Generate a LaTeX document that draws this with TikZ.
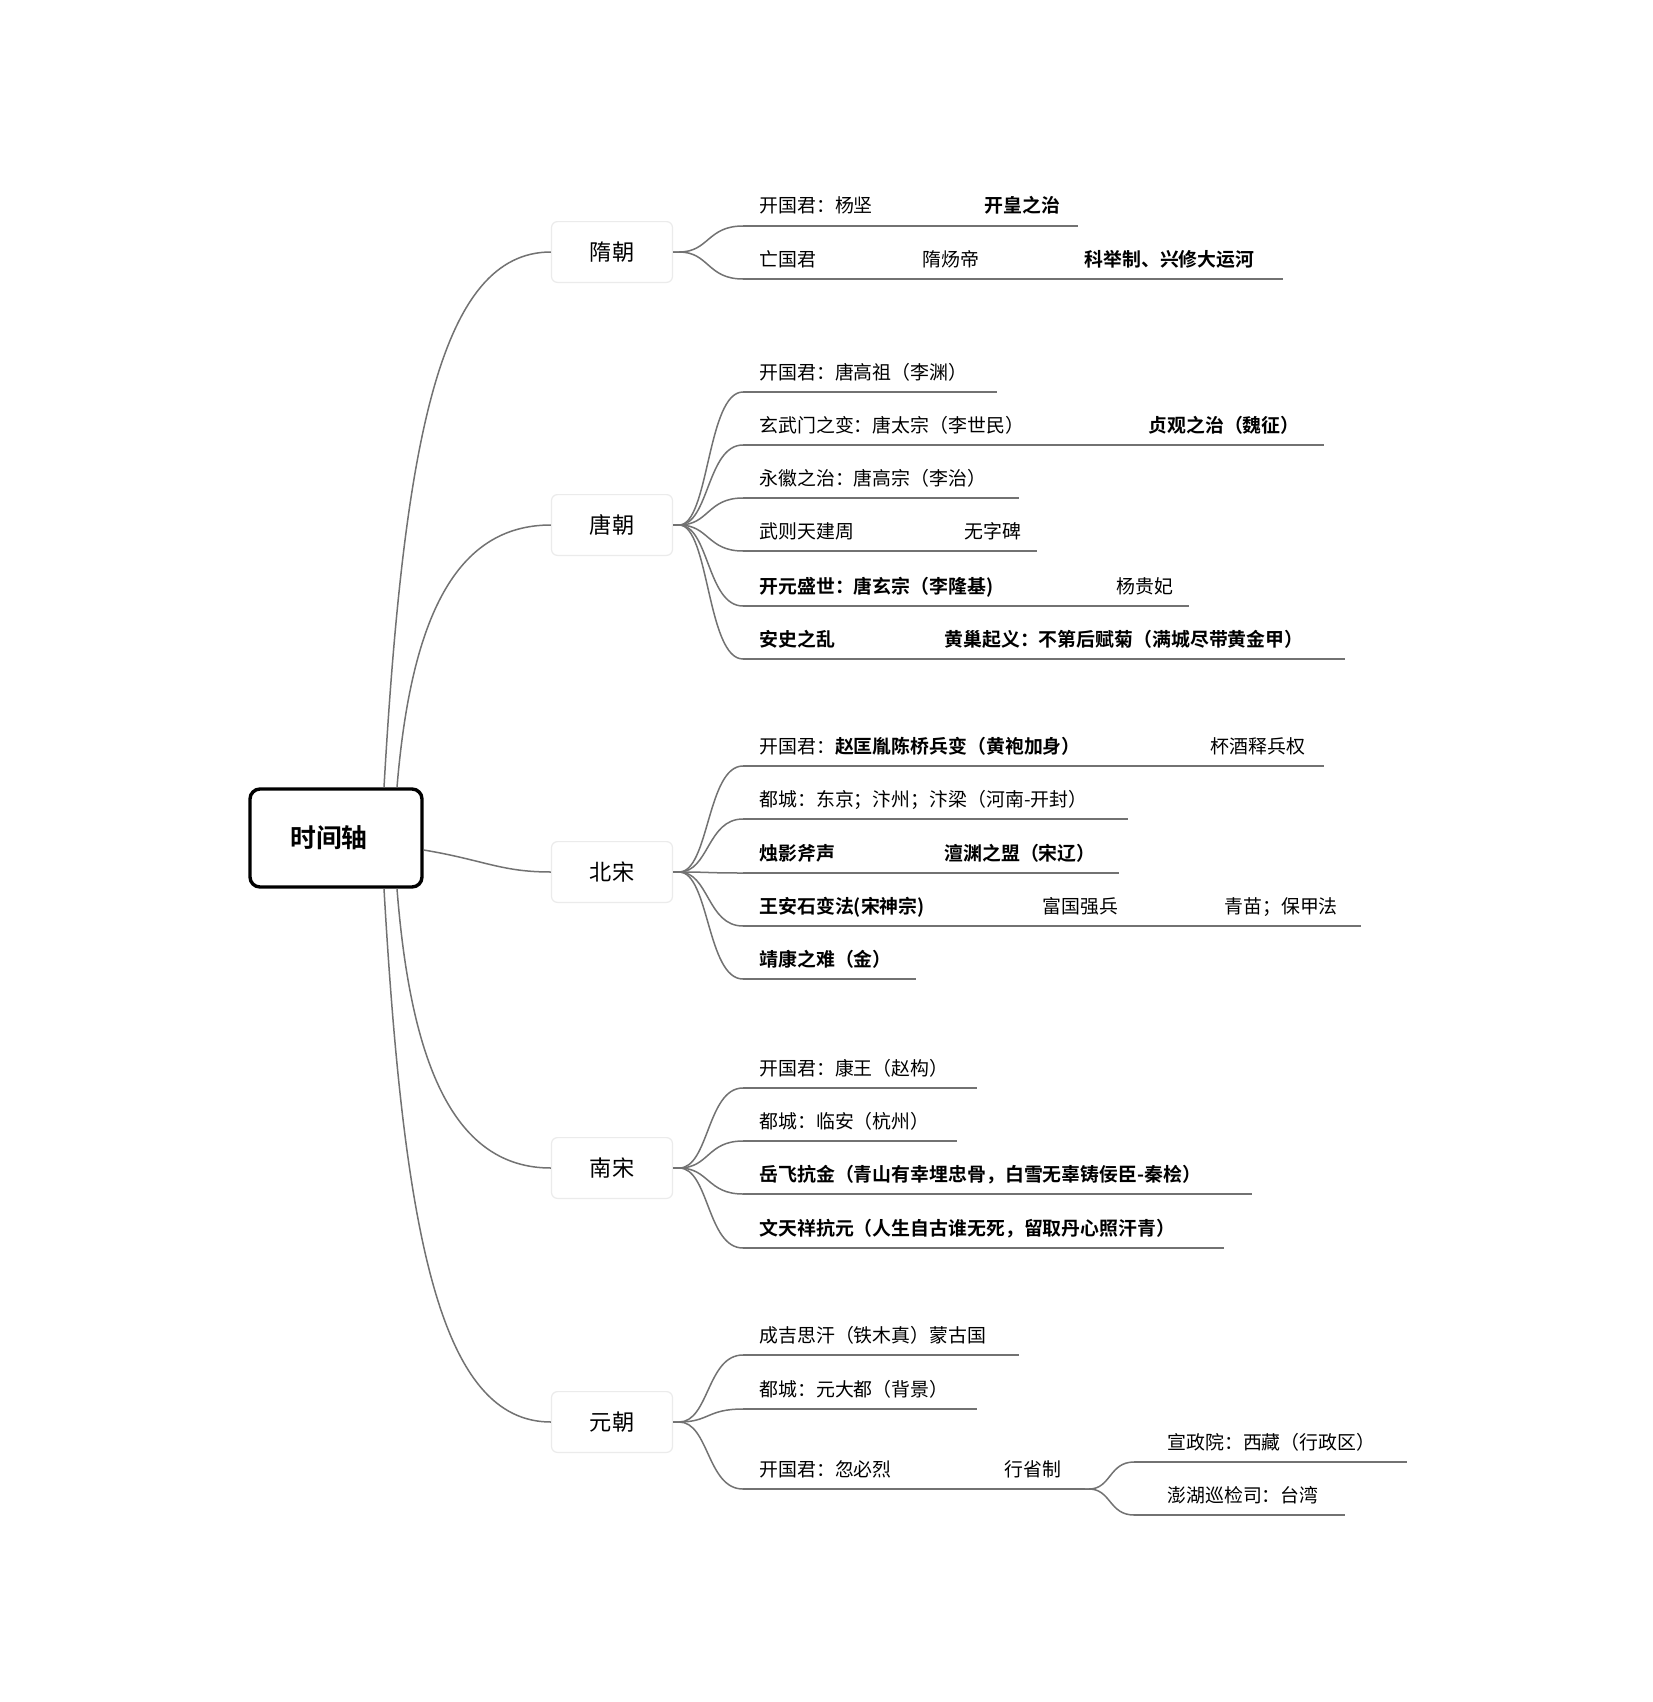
\documentclass[tikz,border=0pt]{standalone}
\usepackage{fontspec}
\setmainfont{Noto Sans CJK SC}[BoldFont={* Bold}]
\usetikzlibrary{positioning,calc}
\definecolor{linegray}{HTML}{727272}
\definecolor{boxedge}{HTML}{EBEBEB}
\tikzset{
  rootbox/.style={rounded corners=5pt, draw=black, line width=1.7pt, fill=white,
                  minimum width=86pt, minimum height=49pt, inner sep=0pt,
                  font=\fontsize{12.9}{15}\selectfont\bfseries},
  erabox/.style={rounded corners=3pt, draw=boxedge, line width=0.6pt, fill=white,
                 minimum width=60.5pt, minimum height=30.4pt, inner sep=0pt,
                 font=\fontsize{11.1}{13}\selectfont},
  leaf/.style={anchor=base west, inner sep=0pt, font=\fontsize{9.45}{11}\selectfont},
  leafb/.style={leaf, font=\fontsize{9.45}{11}\selectfont\bfseries},
  branch/.style={draw=linegray, line width=0.75pt},
}

\begin{document}
\begin{tikzpicture}[x=0.5pt,y=-0.5pt]
\fill[white] (0,0) rectangle (1653,1702);

% root and eras
\node[rootbox] (root) at (336,838) {\hspace*{-7pt}时间轴};
\node[erabox] (sui)  at (612,252)  {隋朝};
\node[erabox] (tang) at (612,525)  {唐朝};
\node[erabox] (bei)  at (612,872)  {北宋};
\node[erabox] (nan)  at (612,1168) {南宋};
\node[erabox] (yuan) at (612,1422) {元朝};

\draw[branch] ($(root.north)+(48,0)$) .. controls +(20,-350) and +(-110,0) .. (sui.west);
\draw[branch] ($(root.north)+(61,0)$) .. controls +(14,-170) and +(-95,0) .. (tang.west);
\draw[branch] ($(root.east)+(0,12)$) .. controls +(60,10) and +(-50,0) .. (bei.west);
\draw[branch] ($(root.south)+(61,0)$) .. controls +(14,180) and +(-95,0) .. (nan.west);
\draw[branch] ($(root.south)+(48,0)$) .. controls +(20,350) and +(-110,0) .. (yuan.west);

% row starts
\coordinate (sui1) at (743,226);
\coordinate (sui2) at (743,279);
\coordinate (tang1) at (743,392);
\coordinate (tang2) at (743,445);
\coordinate (tang3) at (743,498);
\coordinate (tang4) at (743,551);
\coordinate (tang5) at (743,606);
\coordinate (tang6) at (743,659);
\coordinate (bei1) at (743,766);
\coordinate (bei2) at (743,819);
\coordinate (bei3) at (743,873);
\coordinate (bei4) at (743,926);
\coordinate (bei5) at (743,979);
\coordinate (nan1) at (743,1088);
\coordinate (nan2) at (743,1141);
\coordinate (nan3) at (743,1194);
\coordinate (nan4) at (743,1248);
\coordinate (yuan1) at (743,1355);
\coordinate (yuan2) at (743,1409);
\coordinate (yuan3) at (743,1489);
\coordinate (xsh) at (1085,1489);
\coordinate (xzy) at (1134,1462);
\coordinate (phu) at (1134,1515);

\foreach \i in {1,2} \draw[branch] (sui.east) -- ++(6,0) .. controls +(30,0) and +(-36,0) .. (sui\i);
\foreach \i in {1,...,6} \draw[branch] (tang.east) -- ++(6,0) .. controls +(30,0) and +(-36,0) .. (tang\i);
\foreach \i in {1,...,5} \draw[branch] (bei.east) -- ++(6,0) .. controls +(30,0) and +(-36,0) .. (bei\i);
\foreach \i in {1,...,4} \draw[branch] (nan.east) -- ++(6,0) .. controls +(30,0) and +(-36,0) .. (nan\i);
\foreach \i in {1,...,3} \draw[branch] (yuan.east) -- ++(6,0) .. controls +(30,0) and +(-36,0) .. (yuan\i);
\draw[branch] (xsh) -- ++(4,0) .. controls +(22,0) and +(-25,0) .. (xzy);
\draw[branch] (xsh) -- ++(4,0) .. controls +(22,0) and +(-25,0) .. (phu);

% underlines
\draw[branch] (sui1) -- ++(335,0);
\draw[branch] (sui2) -- ++(540,0);
\draw[branch] (tang1) -- ++(254,0);
\draw[branch] (tang2) -- ++(581,0);
\draw[branch] (tang3) -- ++(276,0);
\draw[branch] (tang4) -- ++(294,0);
\draw[branch] (tang5) -- ++(446,0);
\draw[branch] (tang6) -- ++(602,0);
\draw[branch] (bei1) -- ++(581,0);
\draw[branch] (bei2) -- ++(385,0);
\draw[branch] (bei3) -- ++(376,0);
\draw[branch] (bei4) -- ++(618,0);
\draw[branch] (bei5) -- ++(173,0);
\draw[branch] (nan1) -- ++(234,0);
\draw[branch] (nan2) -- ++(214,0);
\draw[branch] (nan3) -- ++(509,0);
\draw[branch] (nan4) -- ++(481,0);
\draw[branch] (yuan1) -- ++(276,0);
\draw[branch] (yuan2) -- ++(234,0);
\draw[branch] (yuan3) -- (xsh);
\draw[branch] (xzy) -- ++(273,0);
\draw[branch] (phu) -- ++(211,0);

% texts
\node[leaf]  (sui1a) at ($(sui1)+(16,-13)$) {开国君：杨坚};
\node[leafb] (sui1b) at ($(sui1)+(241,-13)$) {开皇之治};
\node[leaf]  (sui2a) at ($(sui2)+(16,-13)$) {亡国君};
\node[leaf]  (sui2b) at ($(sui2)+(179,-13)$) {隋炀帝};
\node[leafb] (sui2c) at ($(sui2)+(341,-13)$) {科举制、兴修大运河};

\node[leaf]  (tang1a) at ($(tang1)+(16,-13)$) {开国君：唐高祖（李渊）};
\node[leaf]  (tang2a) at ($(tang2)+(16,-13)$) {玄武门之变：唐太宗（李世民）};
\node[leafb] (tang2b) at ($(tang2)+(405,-13)$) {贞观之治（魏征）};
\node[leaf]  (tang3a) at ($(tang3)+(16,-13)$) {永徽之治：唐高宗（李治）};
\node[leaf]  (tang4a) at ($(tang4)+(16,-13)$) {武则天建周};
\node[leaf]  (tang4b) at ($(tang4)+(221,-13)$) {无字碑};
\node[leafb] (tang5a) at ($(tang5)+(16,-13)$) {开元盛世：唐玄宗（李隆基)};
\node[leaf]  (tang5b) at ($(tang5)+(373,-13)$) {杨贵妃};
\node[leafb] (tang6a) at ($(tang6)+(16,-13)$) {安史之乱};
\node[leafb] (tang6b) at ($(tang6)+(201,-13)$) {黄巢起义：不第后赋菊（满城尽带黄金甲）};

\node[leaf]  (bei1a) at ($(bei1)+(16,-13)$) {开国君：\textbf{赵匡胤陈桥兵变（黄袍加身）}};
\node[leaf]  (bei1b) at ($(bei1)+(467,-13)$) {杯酒释兵权};
\node[leaf]  (bei2a) at ($(bei2)+(16,-13)$) {都城：东京；汴州；汴梁（河南-开封）};
\node[leafb] (bei3a) at ($(bei3)+(16,-13)$) {烛影斧声};
\node[leafb] (bei3b) at ($(bei3)+(201,-13)$) {澶渊之盟（宋辽）};
\node[leafb] (bei4a) at ($(bei4)+(16,-13)$) {王安石变法(宋神宗)};
\node[leaf]  (bei4b) at ($(bei4)+(299,-13)$) {富国强兵};
\node[leaf]  (bei4c) at ($(bei4)+(481,-13)$) {青苗；保甲法};
\node[leafb] (bei5a) at ($(bei5)+(16,-13)$) {靖康之难（金）};

\node[leaf]  (nan1a) at ($(nan1)+(16,-13)$) {开国君：康王（赵构）};
\node[leaf]  (nan2a) at ($(nan2)+(16,-13)$) {都城：临安（杭州）};
\node[leafb] (nan3a) at ($(nan3)+(16,-13)$) {岳飞抗金（青山有幸埋忠骨，白雪无辜铸佞臣-秦桧）};
\node[leafb] (nan4a) at ($(nan4)+(16,-13)$) {文天祥抗元（人生自古谁无死，留取丹心照汗青）};

\node[leaf]  (yuan1a) at ($(yuan1)+(16,-13)$) {成吉思汗（铁木真）蒙古国};
\node[leaf]  (yuan2a) at ($(yuan2)+(16,-13)$) {都城：元大都（背景）};
\node[leaf]  (yuan3a) at ($(yuan3)+(16,-13)$) {开国君：忽必烈};
\node[leaf]  (yuan3b) at ($(yuan3)+(261,-13)$) {行省制};
\node[leaf]  (xzya) at ($(xzy)+(33,-13)$) {宣政院：西藏（行政区）};
\node[leaf]  (phua) at ($(phu)+(33,-13)$) {澎湖巡检司：台湾};
\end{tikzpicture}
\end{document}
